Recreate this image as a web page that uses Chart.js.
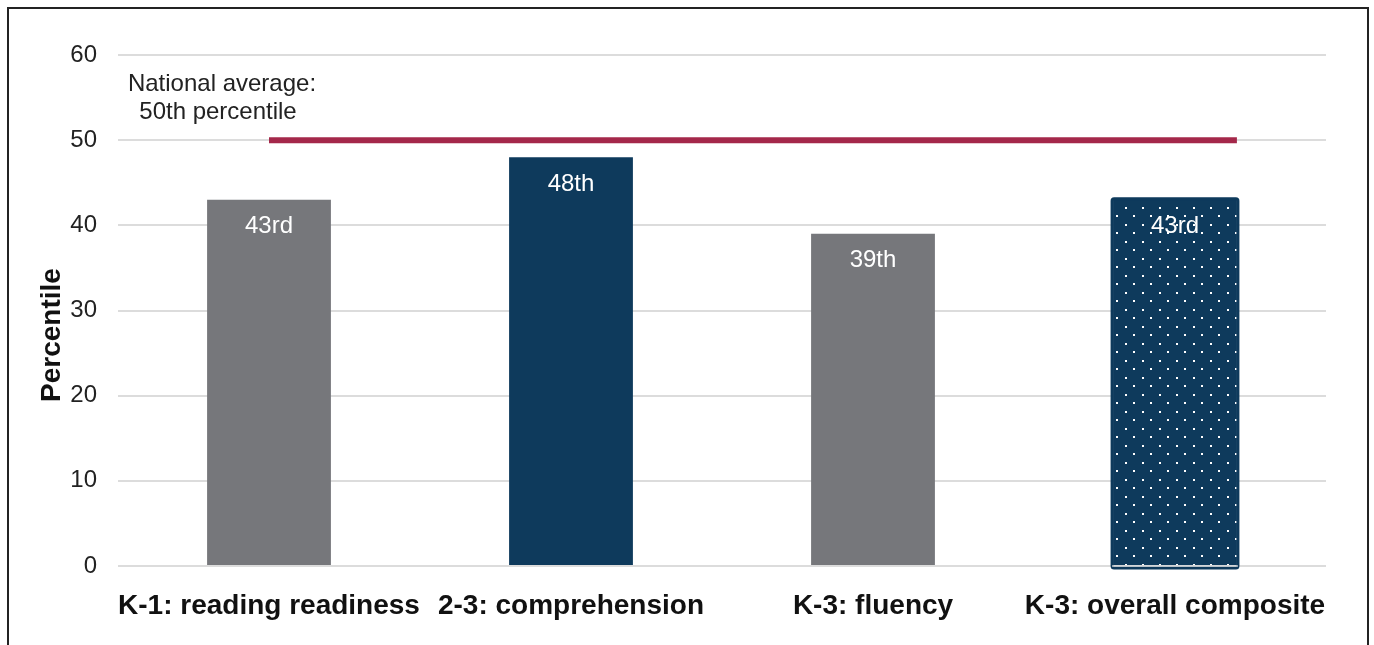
<!DOCTYPE html>
<html>
<head>
<meta charset="utf-8">
<script src="https://cdn.jsdelivr.net/npm/chart.js@4/dist/chart.umd.min.js"></script>
<style>
  html, body { margin: 0; padding: 0; background: #fff; }
  #wrap { position: relative; width: 1374px; height: 645px; overflow: hidden; }
  #frame { position: absolute; left: 7px; top: 7px; width: 1358px; height: 700px; border: 2px solid #232323; pointer-events: none; }
</style>
</head>
<body>
<div id="wrap">
  <canvas id="c" width="1374" height="645"></canvas>
  <div id="frame"></div>
</div>
<script>
const categories = ["K-1: reading readiness", "2-3: comprehension", "K-3: fluency", "K-3: overall composite"];
const percentiles = [43, 48, 39, 43];
const valueLabels = ["43rd", "48th", "39th", "43rd"];
const yTicks = [0, 10, 20, 30, 40, 50, 60];
const nationalAverage = 50;
const annotationLines = ["National average:", "50th percentile"];
const yTitle = "Percentile";

const GRAY = "#76777B";
const NAVY = "#0E3A5C";
const RED = "#A4284A";
const FONT = "'Liberation Sans', Arial, Helvetica, sans-serif";

function dotPattern() {
  const t = document.createElement("canvas");
  t.width = 17; t.height = 17;
  const g = t.getContext("2d");
  g.fillStyle = NAVY; g.fillRect(0, 0, 17, 17);
  g.fillStyle = "#ffffff";
  g.fillRect(3, 3, 2, 2);
  g.fillRect(11, 11, 2, 2);
  return document.getElementById("c").getContext("2d").createPattern(t, "repeat");
}
const pattern = dotPattern();
const barColors = [GRAY, NAVY, GRAY, pattern];

const overlay = {
  id: "overlay",
  afterDatasetsDraw(chart) {
    const ctx = chart.ctx;
    const xs = chart.scales.x, ys = chart.scales.y;
    const meta = chart.getDatasetMeta(0);
    const last = meta.data[meta.data.length - 1];
    const yZero = ys.getPixelForValue(0);
    ctx.save();
    // outline of the patterned bar
    ctx.strokeStyle = NAVY;
    ctx.lineWidth = 3;
    const lx = last.x - last.width / 2 - 1, rx = last.x + last.width / 2 + 1;
    ctx.beginPath();
    ctx.roundRect(lx, last.y - 1, rx - lx, yZero - last.y + 3, 2);
    ctx.stroke();
    ctx.strokeStyle = "#D0D4D8";
    ctx.lineWidth = 1.5;
    ctx.beginPath();
    ctx.moveTo(lx, yZero);
    ctx.lineTo(rx, yZero);
    ctx.stroke();
    // national average line
    const x0 = xs.getPixelForValue(0);
    const x1 = last.x + last.width / 2;
    const yAvg = ys.getPixelForValue(nationalAverage);
    ctx.strokeStyle = RED;
    ctx.lineWidth = 6;
    ctx.beginPath();
    ctx.moveTo(x0, yAvg);
    ctx.lineTo(x1, yAvg);
    ctx.stroke();
    // value labels
    ctx.fillStyle = "#ffffff";
    ctx.font = "24px " + FONT;
    ctx.textAlign = "center";
    ctx.textBaseline = "middle";
    meta.data.forEach((bar, i) => {
      ctx.fillText(valueLabels[i], bar.x, bar.y + 27);
    });
    // annotation
    ctx.fillStyle = "#222222";
    ctx.fillText(annotationLines[0], 222, 84);
    ctx.fillText(annotationLines[1], 218, 112);
    // y title
    ctx.translate(52, 335);
    ctx.rotate(-Math.PI / 2);
    ctx.font = "bold 28px " + FONT;
    ctx.fillStyle = "#111111";
    ctx.fillText(yTitle, 0, 0);
    ctx.restore();
  }
};

new Chart(document.getElementById("c"), {
  type: "bar",
  data: {
    labels: categories,
    datasets: [{
      data: percentiles,
      backgroundColor: barColors,
      borderWidth: 0,
      categoryPercentage: 1,
      barPercentage: 0.41
    }]
  },
  options: {
    responsive: false,
    animation: false,
    devicePixelRatio: 1,
    layout: { padding: { left: 0, right: 48, top: 55, bottom: 0 } },
    plugins: { legend: { display: false }, tooltip: { enabled: false } },
    scales: {
      x: {
        grid: { display: false },
        border: { display: false },
        ticks: {
          color: "#111111",
          font: { family: FONT, size: 28, weight: "bold" },
          padding: 15,
          maxRotation: 0,
          autoSkip: false
        },
        afterFit(s) { s.height = 79; }
      },
      y: {
        min: 0, max: 60,
        afterBuildTicks(s) { s.ticks = yTicks.map(v => ({ value: v })); },
        grid: { color: "#DCDCDC", lineWidth: 2, drawTicks: false },
        border: { display: false },
        ticks: {
          color: "#222222",
          font: { family: FONT, size: 24 },
          padding: 21
        },
        afterFit(s) { s.width = 118; }
      }
    }
  },
  plugins: [overlay]
});
</script>
</body>
</html>
